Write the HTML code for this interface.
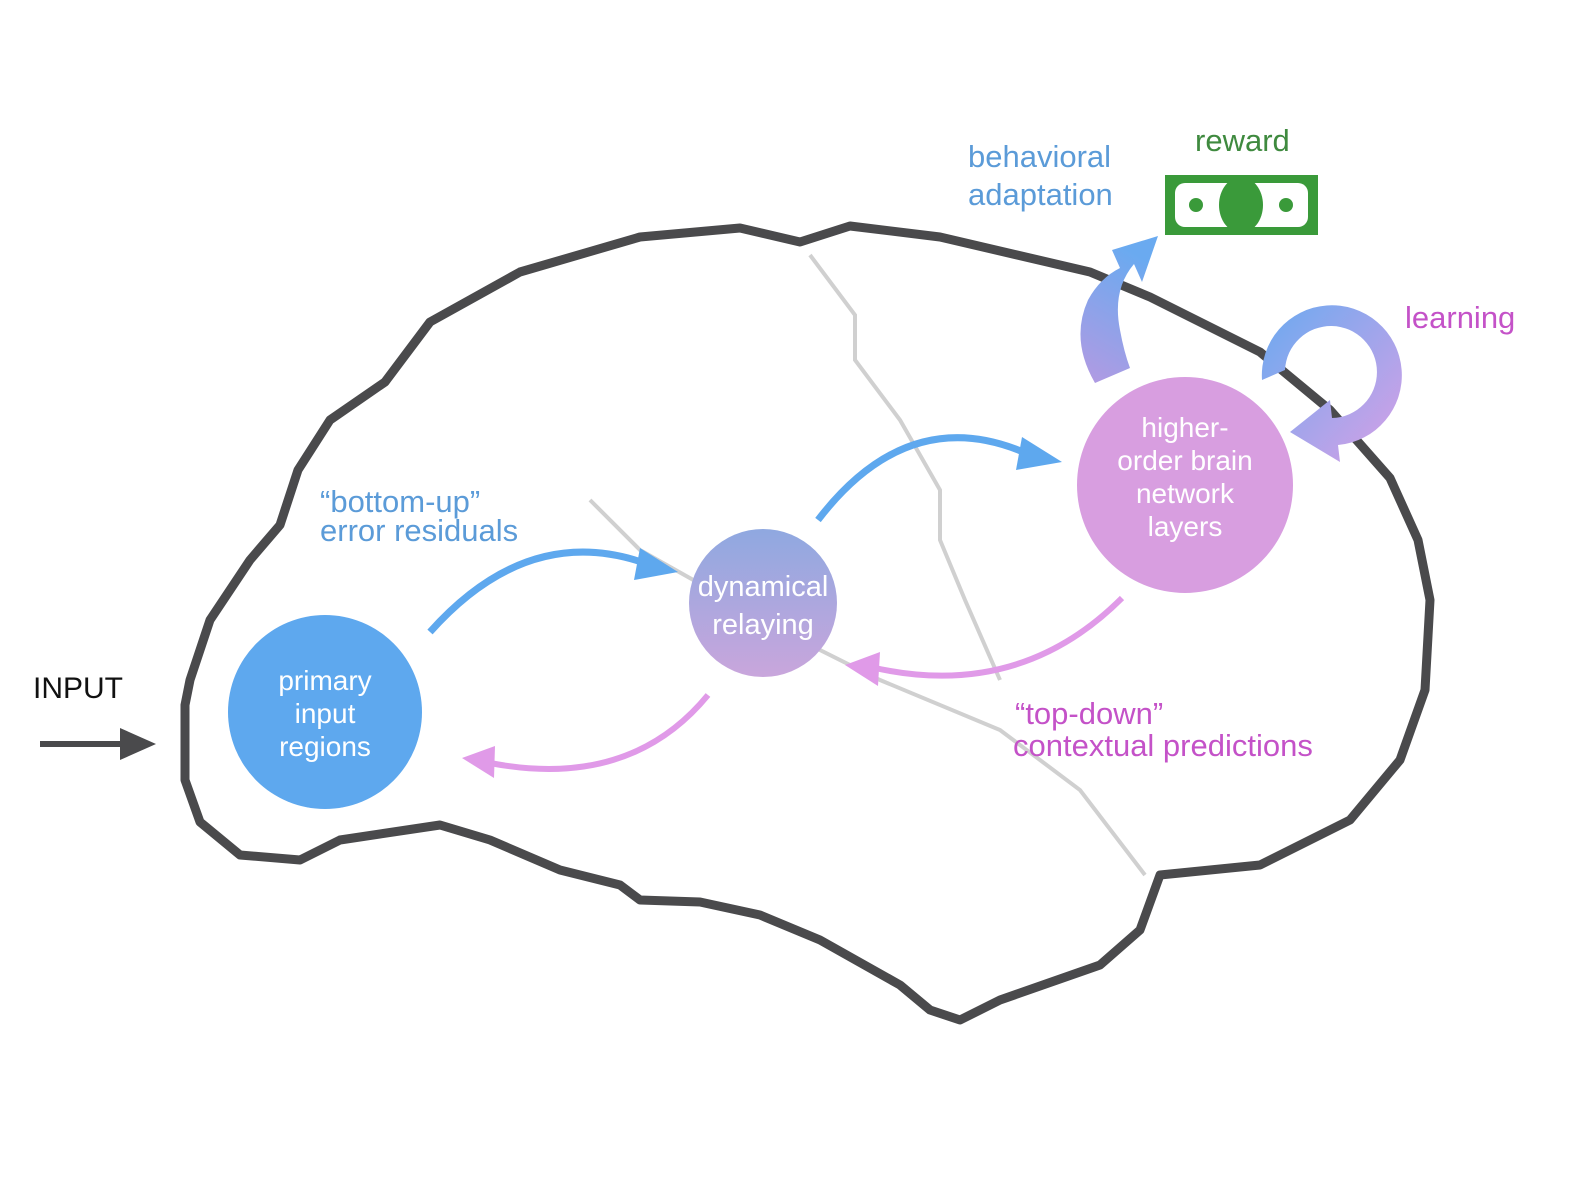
<!DOCTYPE html>
<html><head><meta charset="utf-8"><style>
html,body{margin:0;padding:0;background:#fff;}
svg{display:block}
text{font-family:"Liberation Sans","DejaVu Sans",sans-serif;}
</style></head><body>
<svg width="1585" height="1188" viewBox="0 0 1585 1188" xmlns="http://www.w3.org/2000/svg">
<defs>
<linearGradient id="dyn" x1="0" y1="0" x2="0" y2="1">
<stop offset="0" stop-color="#8fa8e0"/><stop offset="1" stop-color="#c9a6dc"/></linearGradient>
<linearGradient id="beh" x1="0" y1="1" x2="0.3" y2="0">
<stop offset="0" stop-color="#b39ae2"/><stop offset="1" stop-color="#6aaaf0"/></linearGradient>
<linearGradient id="learn" x1="0" y1="0" x2="1" y2="1">
<stop offset="0" stop-color="#6aaaf0"/><stop offset="1" stop-color="#d8a0e6"/></linearGradient>
</defs>
<path d="M810,255 L855,315 L855,360 L900,420 L940,490 L940,540 L965,600 L1000,680" fill="none" stroke="#d0d0d0" stroke-width="4"/>
<path d="M590,500 L640,550 L800,640 L880,680 L1000,730 L1080,790 L1145,875" fill="none" stroke="#d0d0d0" stroke-width="4"/>
<path d="M185,705 L190,680 L210,620 L250,560 L280,525 L298,470 L330,420 L385,382 L430,322 L520,272 L640,237 L740,228 L800,242 L850,226 L940,237 L1090,272 L1150,297 L1260,352 L1330,410 L1390,478 L1418,540 L1430,600 L1425,690 L1400,760 L1350,820 L1260,865 L1160,875 L1140,930 L1100,965 L1000,1000 L960,1020 L930,1010 L900,985 L820,940 L760,915 L700,902 L640,900 L620,885 L560,870 L490,840 L440,825 L340,840 L300,860 L240,855 L200,822 L185,780 Z" fill="none" stroke="#4a4a4c" stroke-width="9" stroke-linejoin="round"/>
<text x="33" y="698" font-size="30" fill="#111">INPUT</text>
<line x1="40" y1="744" x2="125" y2="744" stroke="#4a4a4c" stroke-width="6"/>
<path d="M120,728 L156,744 L120,760 Z" fill="#4a4a4c"/>
<path d="M430,632 Q530,520 650,565" fill="none" stroke="#5ea8ee" stroke-width="7"/>
<path d="M640,548 L678,572 L634,580 Z" fill="#5ea8ee"/>
<path d="M818,520 Q910,400 1030,455" fill="none" stroke="#5ea8ee" stroke-width="7"/>
<path d="M1022,437 L1062,462 L1016,470 Z" fill="#5ea8ee"/>
<path d="M1122,598 Q1020,700 875,668" fill="none" stroke="#e09ae8" stroke-width="6"/>
<path d="M880,652 L845,665 L878,686 Z" fill="#e09ae8"/>
<path d="M708,695 Q630,790 490,763" fill="none" stroke="#e09ae8" stroke-width="6"/>
<path d="M495,746 L462,758 L494,778 Z" fill="#e09ae8"/>
<circle cx="325" cy="712" r="97" fill="#5ea8ee"/>
<circle cx="763" cy="603" r="74" fill="url(#dyn)"/>
<circle cx="1185" cy="485" r="108" fill="#d89ee0"/>
<g fill="#fff" font-size="28" text-anchor="middle">
<text x="325" y="690">primary</text><text x="325" y="723">input</text><text x="325" y="756">regions</text>
<text x="763" y="596" font-size="29">dynamical</text><text x="763" y="634" font-size="29">relaying</text>
<text x="1185" y="437">higher-</text><text x="1185" y="470">order brain</text><text x="1185" y="503">network</text><text x="1185" y="536">layers</text>
</g>
<g font-size="31" fill="#5b9bd8">
<text x="320" y="512">“bottom-up”</text><text x="320" y="541">error residuals</text>
<text x="968" y="167">behavioral</text><text x="968" y="205">adaptation</text>
</g>
<g font-size="31" fill="#c452c8">
<text x="1015" y="724">“top-down”</text><text x="1013" y="756">contextual predictions</text>
<text x="1405" y="328">learning</text>
</g>
<text x="1195" y="151" font-size="31" fill="#3f8a3f">reward</text>
<rect x="1165" y="175" width="153" height="60" fill="#3a9a3a"/>
<rect x="1175" y="183" width="133" height="44" rx="10" fill="#fff"/>
<ellipse cx="1241" cy="205" rx="22" ry="28" fill="#3a9a3a"/>
<circle cx="1196" cy="205" r="7" fill="#3a9a3a"/>
<circle cx="1286" cy="205" r="7" fill="#3a9a3a"/>
<path d="M1095,383 Q1070,340 1088,300 Q1100,278 1120,268 L1112,250 L1158,236 L1142,282 L1134,264 Q1112,290 1120,330 Q1124,352 1130,368 Z" fill="url(#beh)"/>
<path d="M1262,380 A70,70 0 1 1 1338,445 L1340,462 L1290,432 L1330,400 L1332,418 A46,46 0 1 0 1285,370 Z" fill="url(#learn)"/>
</svg>
</body></html>
